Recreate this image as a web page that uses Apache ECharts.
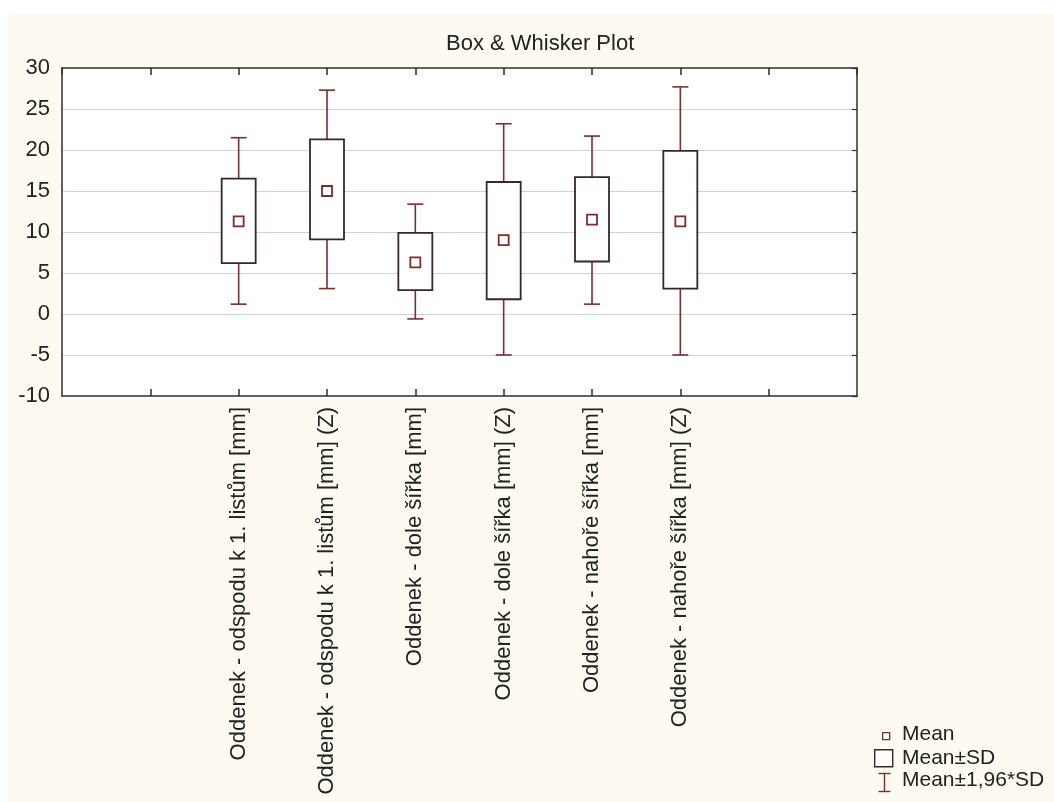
<!DOCTYPE html>
<html>
<head>
<meta charset="utf-8">
<script src="https://cdn.jsdelivr.net/npm/echarts@6/dist/echarts.min.js"></script>
<style>
  html, body { margin: 0; padding: 0; background: #ffffff; }
  #chart { position: absolute; left: 7px; top: 13px; width: 1047px; height: 789px; }
</style>
</head>
<body>
<div id="chart"></div>
<script>
// ---- data ----
var categories = [
  'Oddenek - odspodu k 1. listům [mm]',
  'Oddenek - odspodu k 1. listům [mm] (Z)',
  'Oddenek - dole šířka [mm]',
  'Oddenek - dole šířka [mm] (Z)',
  'Oddenek - nahoře šířka [mm]',
  'Oddenek - nahoře šířka [mm] (Z)'
];
var means   = [11.3, 15.0, 6.3, 9.0, 11.5, 11.3];
var sdLow   = [6.2, 9.1, 2.9, 1.8, 6.4, 3.1];
var sdHigh  = [16.5, 21.3, 9.9, 16.1, 16.7, 19.9];
var ciLow   = [1.2, 3.1, -0.6, -5.0, 1.2, -5.0];
var ciHigh  = [21.5, 27.3, 13.4, 23.2, 21.7, 27.7];
var yTicks  = [-10, -5, 0, 5, 10, 15, 20, 25, 30];
var legendNames = ['Mean', 'Mean±SD', 'Mean±1,96*SD'];

var FIRST = 2;             // position of first category on the 0..9 x scale
var XMAX = categories.length + 3;
var FONT = '"Liberation Sans", Arial, sans-serif';
var TEXT = '#222222';
var FRAME = '#2e2e2e';
var WHISK = '#7a2e2e';
var BOXC = '#3a2626';

var whiskData = [], boxData = [], meanData = [];
for (var i = 0; i < categories.length; i++) {
  whiskData.push([i + FIRST, ciLow[i], sdLow[i], sdHigh[i], ciHigh[i]]);
  boxData.push([i + FIRST, sdLow[i], sdHigh[i]]);
  meanData.push([i + FIRST, means[i]]);
}

var chart = echarts.init(document.getElementById('chart'), null, { renderer: 'canvas' });

function catLabel(v) {
  var k = Math.round(v) - FIRST;
  return (k >= 0 && k < categories.length) ? categories[k] : '';
}

var option = {
  backgroundColor: '#fdfbf1',
  animation: false,
  textStyle: { fontFamily: FONT },
  title: {
    text: 'Box & Whisker Plot',
    left: 434, top: 15,
    textStyle: { fontFamily: FONT, fontSize: 22, fontWeight: 'normal', color: TEXT }
  },
  grid: {
    left: 55, top: 55, right: 197, bottom: 406,
    show: true, backgroundColor: '#ffffff', borderWidth: 0
  },
  xAxis: [
    {
      type: 'value', position: 'bottom', min: 0, max: XMAX, interval: 1,
      axisLine: { show: true, onZero: false, lineStyle: { color: FRAME, width: 1.5 } },
      axisTick: { show: true, inside: true, length: 7, lineStyle: { color: FRAME, width: 1.5 } },
      splitLine: { show: false },
      axisLabel: {
        show: true, rotate: 90, margin: 11, interval: 0,
        fontFamily: FONT, fontSize: 22, color: TEXT,
        showMinLabel: false, showMaxLabel: false,
        formatter: catLabel
      }
    },
    {
      type: 'value', position: 'top', min: 0, max: XMAX, interval: 1,
      axisLine: { show: true, onZero: false, lineStyle: { color: FRAME, width: 1.5 } },
      axisTick: { show: true, inside: true, length: 7, lineStyle: { color: FRAME, width: 1.5 } },
      splitLine: { show: false },
      axisLabel: { show: false }
    }
  ],
  yAxis: [
    {
      type: 'value', position: 'left', min: yTicks[0], max: yTicks[yTicks.length - 1], interval: 5,
      axisLine: { show: true, onZero: false, lineStyle: { color: FRAME, width: 1.5 } },
      axisTick: { show: false },
      splitLine: { show: true, showMinLine: false, showMaxLine: false, lineStyle: { color: '#d2d2d2', width: 1.2 } },
      axisLabel: { fontFamily: FONT, fontSize: 22, color: TEXT, margin: 12 }
    },
    {
      type: 'value', position: 'right', min: yTicks[0], max: yTicks[yTicks.length - 1], interval: 5,
      axisLine: { show: true, onZero: false, lineStyle: { color: FRAME, width: 1.5 } },
      axisTick: { show: true, inside: true, length: 5, lineStyle: { color: FRAME, width: 1.2 } },
      splitLine: { show: false },
      axisLabel: { show: false }
    }
  ],
  series: [
    {
      name: legendNames[2], type: 'custom', xAxisIndex: 0, yAxisIndex: 0, z: 3,
      data: whiskData,
      renderItem: function (params, api) {
        var x = api.value(0);
        var pLo = api.coord([x, api.value(1)]);
        var pBl = api.coord([x, api.value(2)]);
        var pBh = api.coord([x, api.value(3)]);
        var pHi = api.coord([x, api.value(4)]);
        var cap = 8;
        var st = { stroke: WHISK, lineWidth: 1.6, fill: null };
        return {
          type: 'group',
          children: [
            { type: 'line', shape: { x1: pLo[0], y1: pLo[1], x2: pBl[0], y2: pBl[1] }, style: st },
            { type: 'line', shape: { x1: pBh[0], y1: pBh[1], x2: pHi[0], y2: pHi[1] }, style: st },
            { type: 'line', shape: { x1: pLo[0] - cap, y1: pLo[1], x2: pLo[0] + cap, y2: pLo[1] }, style: st },
            { type: 'line', shape: { x1: pHi[0] - cap, y1: pHi[1], x2: pHi[0] + cap, y2: pHi[1] }, style: st }
          ]
        };
      }
    },
    {
      name: legendNames[1], type: 'custom', xAxisIndex: 0, yAxisIndex: 0, z: 4,
      data: boxData,
      renderItem: function (params, api) {
        var x = api.value(0);
        var pL = api.coord([x, api.value(1)]);
        var pH = api.coord([x, api.value(2)]);
        var w = 34;
        return {
          type: 'rect',
          shape: { x: pL[0] - w / 2, y: pH[1], width: w, height: pL[1] - pH[1] },
          style: { fill: '#ffffff', stroke: BOXC, lineWidth: 1.8 }
        };
      }
    },
    {
      name: legendNames[0], type: 'scatter', xAxisIndex: 0, yAxisIndex: 0, z: 5,
      data: meanData,
      symbol: 'rect', symbolSize: 10,
      itemStyle: { color: '#ffffff', borderColor: WHISK, borderWidth: 1.8, opacity: 1 }
    }
  ],
  graphic: [
    { type: 'rect', left: 875, top: 719, shape: { width: 7, height: 7 }, style: { fill: '#fff', stroke: WHISK, lineWidth: 1.3 } },
    { type: 'text', left: 895, top: 711, style: { text: legendNames[0], font: '21px ' + FONT, fill: TEXT } },
    { type: 'rect', left: 867, top: 736, shape: { width: 18, height: 17 }, style: { fill: '#fff', stroke: BOXC, lineWidth: 1.4 } },
    { type: 'text', left: 895, top: 735, style: { text: legendNames[1], font: '21px ' + FONT, fill: TEXT } },
    { type: 'group', left: 869, top: 758, children: [
      { type: 'line', shape: { x1: 8, y1: 0, x2: 8, y2: 18 }, style: { stroke: WHISK, lineWidth: 1.4 } },
      { type: 'line', shape: { x1: 2, y1: 0, x2: 14, y2: 0 }, style: { stroke: WHISK, lineWidth: 1.4 } },
      { type: 'line', shape: { x1: 2, y1: 18, x2: 14, y2: 18 }, style: { stroke: WHISK, lineWidth: 1.4 } }
    ] },
    { type: 'text', left: 895, top: 757, style: { text: legendNames[2], font: '21px ' + FONT, fill: TEXT } }
  ]
};

chart.setOption(option);
</script>
</body>
</html>
